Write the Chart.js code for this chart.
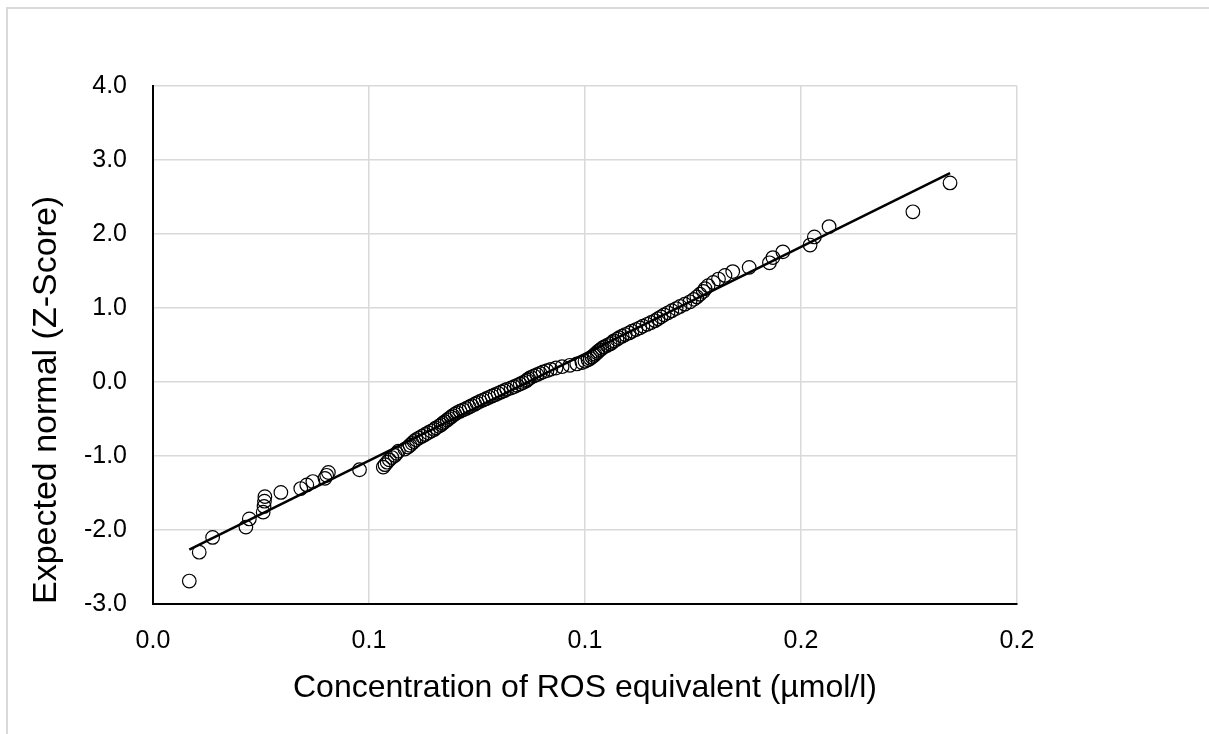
<!DOCTYPE html>
<html>
<head>
<meta charset="utf-8">
<script src="https://cdn.jsdelivr.net/npm/chart.js@4.4.1/dist/chart.umd.min.js"></script>
<style>
  html, body { margin: 0; padding: 0; background: #fff; overflow: hidden; }
  #frame { position: absolute; left: 6px; top: 7px; width: 1300px; height: 800px;
           border-left: 2px solid #d9d9d9; border-top: 2px solid #d9d9d9; }
  #wrap { position: absolute; left: 0; top: 0; width: 1209px; height: 734px; }
</style>
</head>
<body>
<div id="frame"></div>
<div id="wrap"><canvas id="chart" width="1209" height="734"></canvas></div>
<script>
// ROS equivalent concentration (µmol/l), sorted ascending
const concentration = [
  0.0084, 0.0107, 0.0138, 0.0215, 0.0223, 0.0255, 0.0257, 0.0258, 0.0259, 0.0296,
  0.0342, 0.0356, 0.0370, 0.0398, 0.0402, 0.0406, 0.0478, 0.0533, 0.0537, 0.0542,
  0.0547, 0.0553, 0.0560, 0.0564, 0.0568, 0.0583, 0.0590, 0.0595, 0.0600, 0.0604,
  0.0609, 0.0616, 0.0623, 0.0630, 0.0637, 0.0644, 0.0651, 0.0655, 0.0662, 0.0667,
  0.0671, 0.0676, 0.0681, 0.0685, 0.0690, 0.0694, 0.0699, 0.0704, 0.0711, 0.0718,
  0.0725, 0.0732, 0.0738, 0.0745, 0.0750, 0.0757, 0.0764, 0.0771, 0.0778, 0.0785,
  0.0792, 0.0799, 0.0806, 0.0813, 0.0819, 0.0829, 0.0836, 0.0843, 0.0850, 0.0856,
  0.0863, 0.0866, 0.0870, 0.0875, 0.0882, 0.0889, 0.0896, 0.0903, 0.0912, 0.0921,
  0.0933, 0.0947, 0.0965, 0.0981, 0.0993, 0.1000, 0.1007, 0.1012, 0.1016, 0.1021,
  0.1023, 0.1028, 0.1030, 0.1035, 0.1039, 0.1044, 0.1051, 0.1058, 0.1063, 0.1067,
  0.1074, 0.1079, 0.1086, 0.1093, 0.1102, 0.1109, 0.1118, 0.1127, 0.1134, 0.1144,
  0.1153, 0.1162, 0.1169, 0.1176, 0.1183, 0.1192, 0.1201, 0.1211, 0.1220, 0.1231,
  0.1243, 0.1252, 0.1259, 0.1266, 0.1274, 0.1278, 0.1285, 0.1297, 0.1309, 0.1324,
  0.1342, 0.1380, 0.1427, 0.1435, 0.1458, 0.1521, 0.1531, 0.1565, 0.1759, 0.1845
];

// Expected normal score of each ranked value
const zScore = [
  -2.690, -2.300, -2.100, -1.960, -1.851, -1.759, -1.681, -1.611, -1.549, -1.492,
  -1.440, -1.391, -1.345, -1.302, -1.261, -1.223, -1.186, -1.150, -1.117, -1.084,
  -1.052, -1.021, -0.992, -0.963, -0.935, -0.907, -0.880, -0.855, -0.829, -0.804,
  -0.780, -0.755, -0.732, -0.709, -0.686, -0.663, -0.641, -0.619, -0.598, -0.577,
  -0.556, -0.535, -0.514, -0.494, -0.474, -0.454, -0.434, -0.414, -0.395, -0.376,
  -0.357, -0.338, -0.319, -0.300, -0.281, -0.262, -0.244, -0.226, -0.207, -0.189,
  -0.171, -0.153, -0.135, -0.117, -0.099, -0.081, -0.063, -0.045, -0.027, -0.009,
   0.009,  0.027,  0.045,  0.063,  0.081,  0.099,  0.117,  0.135,  0.153,  0.171,
   0.189,  0.207,  0.226,  0.244,  0.262,  0.281,  0.300,  0.319,  0.338,  0.357,
   0.376,  0.395,  0.414,  0.434,  0.454,  0.474,  0.494,  0.514,  0.535,  0.556,
   0.577,  0.598,  0.619,  0.641,  0.663,  0.686,  0.709,  0.732,  0.755,  0.780,
   0.804,  0.829,  0.855,  0.880,  0.907,  0.935,  0.963,  0.992,  1.021,  1.052,
   1.084,  1.117,  1.150,  1.186,  1.223,  1.261,  1.302,  1.345,  1.391,  1.440,
   1.492,  1.549,  1.611,  1.681,  1.759,  1.851,  1.960,  2.100,  2.300,  2.690
];

const xTickValues = [0, 0.05, 0.1, 0.15, 0.2];
const xTickLabels = ['0.0', '0.1', '0.1', '0.2', '0.2'];
const yTickValues = [-3, -2, -1, 0, 1, 2, 3, 4];
const yTickLabels = ['-3.0', '-2.0', '-1.0', '0.0', '1.0', '2.0', '3.0', '4.0'];

const xTitle = 'Concentration of ROS equivalent (µmol/l)';
const yTitle = 'Expected normal (Z-Score)';

// Least-squares linear trend of z on concentration
function linearFit(xs, ys) {
  const n = xs.length;
  let sx = 0, sy = 0, sxx = 0, sxy = 0;
  for (let i = 0; i < n; i++) {
    sx += xs[i]; sy += ys[i]; sxx += xs[i] * xs[i]; sxy += xs[i] * ys[i];
  }
  const slope = (n * sxy - sx * sy) / (n * sxx - sx * sx);
  return { slope, intercept: (sy - slope * sx) / n };
}
const fit = linearFit(concentration, zScore);
const xMin = Math.min(...concentration), xMax = Math.max(...concentration);
const trendPoints = [
  { x: xMin, y: fit.intercept + fit.slope * xMin },
  { x: xMax, y: fit.intercept + fit.slope * xMax }
];
const points = concentration.map((c, i) => ({ x: c, y: zScore[i] }));

const FONT = "'Liberation Sans', Arial, sans-serif";

new Chart(document.getElementById('chart'), {
  type: 'scatter',
  data: {
    datasets: [
      { type: 'line', data: trendPoints, borderColor: '#000', borderWidth: 2.5,
        pointRadius: 0, fill: false, order: 0 },
      { data: points, pointStyle: 'circle', pointRadius: 6.8, borderColor: '#000',
        borderWidth: 1.2, backgroundColor: 'rgba(0,0,0,0)', order: 1 }
    ]
  },
  options: {
    responsive: false,
    animation: false,
    devicePixelRatio: 1,
    events: [],
    layout: { padding: { left: 0, top: 86, right: 192, bottom: 0 } },
    plugins: { legend: { display: false }, tooltip: { enabled: false } },
    scales: {
      x: {
        type: 'linear', min: 0, max: 0.2,
        afterBuildTicks(s) { s.ticks = xTickValues.map(v => ({ value: v })); },
        afterFit(s) { s.height = 130; },
        grid: { color: '#d9d9d9', lineWidth: 1.5, drawTicks: false },
        border: { color: '#000', width: 2 },
        ticks: { padding: 22, color: '#000', font: { family: FONT, size: 25 },
                 callback: (v, i) => xTickLabels[i] },
        title: { display: true, text: xTitle, color: '#000',
                 font: { family: FONT, size: 32 }, padding: { top: 0, bottom: 27 } }
      },
      y: {
        type: 'linear', min: -3, max: 4,
        afterBuildTicks(s) { s.ticks = yTickValues.map(v => ({ value: v })); },
        afterFit(s) { s.width = 153; },
        grid: { color: '#d9d9d9', lineWidth: 1.5, drawTicks: false },
        border: { color: '#000', width: 2 },
        ticks: { padding: 26, color: '#000', font: { family: FONT, size: 25 },
                 callback: (v, i) => yTickLabels[i] },
        title: { display: true, text: yTitle, color: '#000', align: 'start',
                 font: { family: FONT, size: 34 }, padding: { top: 26, bottom: 0 } }
      }
    }
  }
});
</script>
</body>
</html>
